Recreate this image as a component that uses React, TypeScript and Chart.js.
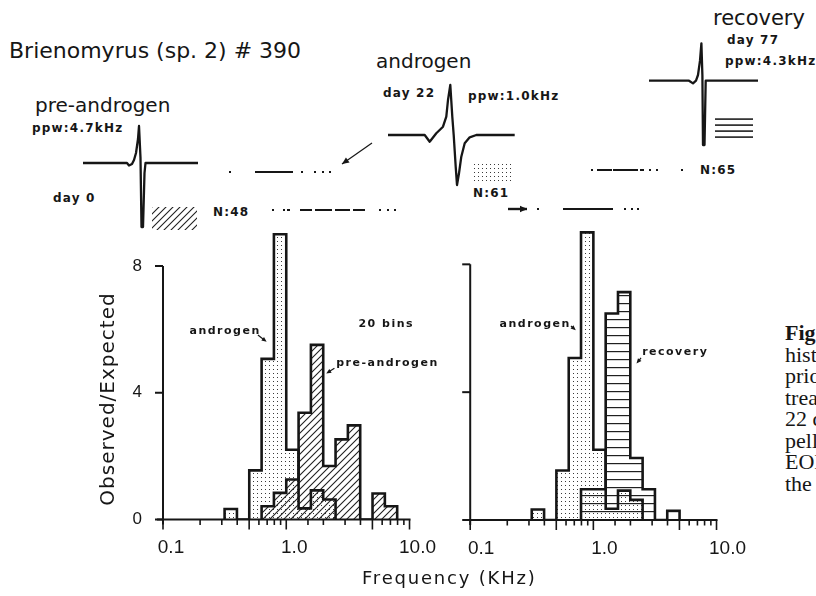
import React, { useEffect, useRef, useMemo } from 'react';
import { Chart, registerables } from 'chart.js';

Chart.register(...registerables);
Chart.defaults.font.family = '"DejaVu Sans", sans-serif';

const INK = '#161616';

// ---------------- histogram data (20 log bins, 0.1 decade wide) ----------------
const binEdgesKHz = [0.316, 0.398, 0.501, 0.631, 0.794, 1.0, 1.259, 1.585, 1.995, 2.512, 3.162, 3.981, 5.012, 6.31, 7.943];
const androgenRatio = [0.33, 0, 1.55, 5.07, 9.0, 2.2, 0.35, 0.92, 0.63, 0, 0, 0, 0, 0];
const preAndrogenRatio = [0, 0, 0, 0.42, 0.84, 1.26, 3.37, 5.51, 1.69, 2.53, 2.97, 0, 0.82, 0.42];
const recoveryRatio = [0, 0, 0, 0, 0.96, 0.96, 6.46, 7.13, 1.94, 0.96, 0, 0.29, 0, 0];

const xTickValues = [0.1, 1, 10];
const xTickLabels = ['0.1', '1.0', '10.0'];
const yTickValues = [0, 4, 8];
const yTickLabels = ['0', '4', '8'];

// ---------------- EOD waveforms (time, amplitude) ----------------
const preWaveT = [0, 44, 46, 49, 51, 53, 55, 56, 57.5, 58.5, 60, 61.5, 62.5, 115];
const preWaveV = [0, 0, -2.5, -1, 3, 10, 24, 37, 5, -64, -64, -10, 0, 0];
const andWaveT = [0, 36.7, 41.7, 48.3, 55, 58.3, 60, 62.3, 64.3, 65.7, 67.7, 69, 71, 73.3, 76.7, 81.7, 88.3, 126.7];
const andWaveV = [0, 0, -6.7, 1.7, 8.3, 18.3, 35, 50, 18.3, 0, -31.7, -50, -38.3, -21.7, -8.3, -2.3, 0, 0];
const recWaveT = [0, 40, 44, 47, 49, 51, 52.4, 53.4, 54, 55.5, 56.7, 109];
const recWaveV = [0, 0, -2.7, 0, 5.7, 20, 37.3, 5, -64.3, -64.3, 0, 0];

// ---------------- pulse-interval rasters ([start, end]) ----------------
const rasterPreUpper = [[1, 3], [27, 65], [73, 75], [86, 88], [94, 96], [101, 103]];
const rasterPreLower = [[2, 4], [13, 15], [17, 20], [30, 42], [45, 62], [65, 80], [83, 95], [109, 111], [117, 119], [124, 126]];
const rasterAndrogen = [[7, 9], [33, 83], [94, 96], [101, 103], [107, 109]];
const rasterRecovery = [[3, 5], [9, 24], [25, 50], [52, 56], [61, 63], [68, 70], [93, 95]];

// ---------------- helpers ----------------
function stepPoints(edges: number[], heights: number[]) {
  const first = heights.findIndex((h) => h > 0);
  let last = heights.length - 1;
  while (last > 0 && heights[last] <= 0) last--;
  const pts: { x: number; y: number }[] = [{ x: edges[first], y: 0 }];
  for (let i = first; i <= last; i++) pts.push({ x: edges[i], y: heights[i] });
  pts.push({ x: edges[last + 1], y: 0 });
  return pts;
}

function makeTile(kind: string): HTMLCanvasElement {
  const c = document.createElement('canvas');
  const g = c.getContext('2d')!;
  if (kind === 'dots') {
    c.width = 4; c.height = 4;
    g.fillStyle = '#3a3a3a';
    g.fillRect(1, 1, 1, 1);
  } else if (kind === 'hatch') {
    c.width = 7; c.height = 7;
    g.strokeStyle = '#202020';
    g.lineWidth = 1.1;
    g.beginPath();
    g.moveTo(-1, 8); g.lineTo(8, -1);
    g.moveTo(-1, 1); g.lineTo(1, -1);
    g.moveTo(6, 8); g.lineTo(8, 6);
    g.stroke();
  } else if (kind === 'hlines') {
    c.width = 4; c.height = 8;
    g.fillStyle = '#202020';
    g.fillRect(0, 3, 4, 1.2);
  } else {
    c.width = 4; c.height = 6;
    g.fillStyle = '#202020';
    g.fillRect(0, 2.3, 4, 1.6);
  }
  return c;
}

function drawArrow(ctx: CanvasRenderingContext2D, x1: number, y1: number, x2: number, y2: number, w: number, head: number) {
  const a = Math.atan2(y2 - y1, x2 - x1);
  ctx.save();
  ctx.strokeStyle = INK;
  ctx.fillStyle = INK;
  ctx.lineWidth = w;
  ctx.beginPath();
  ctx.moveTo(x1, y1);
  ctx.lineTo(x2 - Math.cos(a) * head * 0.6, y2 - Math.sin(a) * head * 0.6);
  ctx.stroke();
  ctx.beginPath();
  ctx.moveTo(x2, y2);
  ctx.lineTo(x2 - Math.cos(a) * head + Math.sin(a) * head * 0.45, y2 - Math.sin(a) * head - Math.cos(a) * head * 0.45);
  ctx.lineTo(x2 - Math.cos(a) * head - Math.sin(a) * head * 0.45, y2 - Math.sin(a) * head + Math.cos(a) * head * 0.45);
  ctx.closePath();
  ctx.fill();
  ctx.restore();
}

function xLabelFor(v: number) {
  const i = xTickValues.findIndex((t) => Math.abs(Math.log10(t) - Math.log10(v)) < 1e-6);
  return i >= 0 ? xTickLabels[i] : '';
}
function yLabelFor(v: number) {
  const i = yTickValues.findIndex((t) => Math.abs(t - v) < 1e-9);
  return i >= 0 ? yTickLabels[i] : '';
}

type Note = { text: string; x: number; y: number; arrow?: number[] };
type Series = { heights: number[]; pattern: string };

const axisPlugin = {
  id: 'figAxes',
  afterDatasetsDraw(chart: any) {
    const { ctx, chartArea, scales } = chart;
    const x = scales.x, y = scales.y;
    const y0 = y.getPixelForValue(0);
    const yTop = y.getPixelForValue(yTickValues[yTickValues.length - 1]);
    ctx.save();
    ctx.strokeStyle = INK;
    ctx.lineWidth = 2;
    ctx.beginPath();
    ctx.moveTo(chartArea.left - 6, y0);
    ctx.lineTo(chartArea.right + 1, y0);
    ctx.stroke();
    ctx.beginPath();
    ctx.moveTo(chartArea.left, y0 + 5);
    ctx.lineTo(chartArea.left, yTop);
    ctx.stroke();
    for (const v of yTickValues) {
      const p = y.getPixelForValue(v);
      ctx.beginPath();
      ctx.moveTo(chartArea.left - 8, p);
      ctx.lineTo(chartArea.left, p);
      ctx.stroke();
    }
    ctx.lineWidth = 1.6;
    for (const t of x.ticks) {
      const px = x.getPixelForValue(t.value);
      const m = t.value / Math.pow(10, Math.floor(Math.log10(t.value) + 1e-9));
      const long = Math.abs(m - 1) < 1e-6 || Math.abs(m - 5) < 1e-6;
      ctx.beginPath();
      ctx.moveTo(px, y0);
      ctx.lineTo(px, y0 + (long ? 10 : 5.5));
      ctx.stroke();
    }
    ctx.restore();
  },
};

function HistPanel(props: {
  left: number; top: number; width: number; height: number;
  yAxisWidth: number; padTop: number; padRight: number; xAxisHeight: number; yMax: number;
  series: Series[]; showYLabels: boolean; labelOffset: number; notes: Note[];
}) {
  const ref = useRef<HTMLCanvasElement>(null);
  useEffect(() => {
    const canvas = ref.current!;
    const ctx = canvas.getContext('2d')!;
    const datasets = props.series.map((s) => ({
      data: stepPoints(binEdgesKHz, s.heights),
      stepped: 'before',
      fill: 'origin',
      backgroundColor: ctx.createPattern(makeTile(s.pattern), 'repeat'),
      borderColor: INK,
      borderWidth: 2.6,
      pointRadius: 0,
      tension: 0,
      borderJoinStyle: 'miter',
    }));
    const notes = props.notes;
    const notesPlugin = {
      id: 'histNotes',
      afterDatasetsDraw(chart: any) {
        const c = chart.ctx as CanvasRenderingContext2D;
        const x = chart.scales.x, y = chart.scales.y;
        c.save();
        c.font = 'bold 11px "DejaVu Sans"';
        (c as any).letterSpacing = '1.5px';
        c.fillStyle = INK;
        c.textBaseline = 'middle';
        c.textAlign = 'left';
        for (const n of notes) {
          c.fillText(n.text, x.getPixelForValue(n.x), y.getPixelForValue(n.y));
          if (n.arrow) {
            drawArrow(c, x.getPixelForValue(n.arrow[0]), y.getPixelForValue(n.arrow[1]),
              x.getPixelForValue(n.arrow[2]), y.getPixelForValue(n.arrow[3]), 1.2, 5);
          }
        }
        c.restore();
      },
    };
    const chart = new Chart(canvas, {
      type: 'line',
      data: { datasets } as any,
      options: {
        responsive: false,
        animation: false,
        events: [],
        layout: { padding: { top: props.padTop, right: props.padRight, left: 0, bottom: 0 } },
        plugins: {
          legend: { display: false },
          tooltip: { enabled: false },
          filler: { drawTime: 'beforeDatasetsDraw' },
        } as any,
        scales: {
          x: {
            type: 'logarithmic',
            min: 0.1,
            max: 10,
            grid: { display: false, drawTicks: false },
            border: { display: false },
            ticks: {
              autoSkip: false,
              maxRotation: 0,
              minRotation: 0,
              padding: 17,
              labelOffset: props.labelOffset,
              color: INK,
              font: { family: '"Liberation Sans", Arial, sans-serif', size: 19 },
              callback: (v: any) => xLabelFor(Number(v)),
            },
            afterFit: (s: any) => { s.height = props.xAxisHeight; },
          },
          y: {
            type: 'linear',
            min: 0,
            max: props.yMax,
            grid: { display: false, drawTicks: false },
            border: { display: false },
            afterBuildTicks: (s: any) => { s.ticks = yTickValues.map((v) => ({ value: v })); },
            ticks: {
              display: props.showYLabels,
              padding: 21,
              color: INK,
              font: { family: '"Liberation Sans", Arial, sans-serif', size: 17 },
              callback: (v: any) => yLabelFor(Number(v)),
            },
            afterFit: (s: any) => { s.width = props.yAxisWidth; },
          },
        } as any,
      },
      plugins: [axisPlugin, notesPlugin],
    } as any);
    return () => chart.destroy();
  }, []);
  return (
    <canvas
      ref={ref}
      width={props.width}
      height={props.height}
      style={{ position: 'absolute', left: props.left, top: props.top, width: props.width, height: props.height }}
    />
  );
}

type MiniSeries = { data: { x: number; y: number | null }[]; width?: number; arrow?: boolean };

function Mini(props: { left: number; top: number; width: number; height: number; originX: number; baseY: number; series: MiniSeries[] }) {
  const ref = useRef<HTMLCanvasElement>(null);
  useEffect(() => {
    const canvas = ref.current!;
    const series = props.series;
    const headPlugin = {
      id: 'arrowHeads',
      afterDatasetsDraw(chart: any) {
        series.forEach((s) => {
          if (!s.arrow) return;
          const n = s.data.length;
          const x = chart.scales.x, y = chart.scales.y;
          const a = s.data[n - 2], b = s.data[n - 1];
          const ax = x.getPixelForValue(a.x), ay = y.getPixelForValue(a.y);
          const bx = x.getPixelForValue(b.x), by = y.getPixelForValue(b.y);
          const len = Math.hypot(bx - ax, by - ay);
          const ux = (bx - ax) / len, uy = (by - ay) / len;
          drawArrow(chart.ctx, bx - ux * 2, by - uy * 2, bx, by, s.width ?? 1.2, 7);
        });
      },
    };
    const chart = new Chart(canvas, {
      type: 'line',
      data: {
        datasets: series.map((s) => ({
          data: s.data,
          borderColor: INK,
          borderWidth: s.width ?? 2.2,
          pointRadius: 0,
          tension: 0,
          spanGaps: false,
          fill: false,
          clip: false,
          borderCapStyle: 'butt',
          borderJoinStyle: 'round',
        })),
      } as any,
      options: {
        responsive: false,
        animation: false,
        events: [],
        layout: { padding: 0 },
        plugins: { legend: { display: false }, tooltip: { enabled: false } },
        scales: {
          x: { type: 'linear', display: false, min: props.left - props.originX, max: props.left + props.width - props.originX },
          y: { type: 'linear', display: false, min: props.baseY - props.top - props.height, max: props.baseY - props.top },
        },
      },
      plugins: [headPlugin],
    } as any);
    return () => chart.destroy();
  }, []);
  return (
    <canvas
      ref={ref}
      width={props.width}
      height={props.height}
      style={{ position: 'absolute', left: props.left, top: props.top, width: props.width, height: props.height }}
    />
  );
}

function wave(t: number[], v: number[]) {
  return t.map((x, i) => ({ x, y: v[i] }));
}
function raster(ev: number[][]) {
  const out: { x: number; y: number | null }[] = [];
  for (const [s, e] of ev) {
    out.push({ x: s, y: 0 }, { x: e, y: 0 }, { x: e, y: null });
  }
  return out;
}

function Wave(props: { originX: number; baseY: number; t: number[]; v: number[] }) {
  const maxT = Math.max(...props.t);
  const maxV = Math.max(...props.v);
  const minV = Math.min(...props.v);
  return (
    <Mini
      left={props.originX - 4}
      top={Math.floor(props.baseY - maxV - 5)}
      width={Math.ceil(maxT + 8)}
      height={Math.ceil(maxV - minV + 10)}
      originX={props.originX}
      baseY={props.baseY}
      series={[{ data: wave(props.t, props.v), width: 2.3 }]}
    />
  );
}

function Raster(props: { originX: number; baseY: number; events: number[][] }) {
  const maxE = Math.max(...props.events.map((e) => e[1]));
  return (
    <Mini
      left={props.originX - 4}
      top={props.baseY - 5}
      width={maxE + 8}
      height={10}
      originX={props.originX}
      baseY={props.baseY}
      series={[{ data: raster(props.events), width: 2 }]}
    />
  );
}

function Txt(props: { x: number; baseline: number; size: number; bold?: boolean; spacing?: number; family?: string; children: any }) {
  const top = props.baseline - 0.846 * props.size;
  return (
    <div
      style={{
        position: 'absolute',
        left: props.x,
        top,
        fontSize: props.size,
        lineHeight: `${props.size}px`,
        fontWeight: props.bold ? 'bold' : 'normal',
        letterSpacing: props.spacing ? `${props.spacing}px` : undefined,
        fontFamily: props.family ?? '"DejaVu Sans", sans-serif',
        whiteSpace: 'nowrap',
        color: INK,
      }}
    >
      {props.children}
    </div>
  );
}

const captionLines = ['Fig. 5', 'histograms', 'prior to', 'treatment', '22 days', 'pellet', 'EOD', 'the'];

export default function App() {
  const tiles = useMemo(() => ({
    hatch: makeTile('hatch').toDataURL(),
    dots: makeTile('dots').toDataURL(),
    hlines6: makeTile('hlines6').toDataURL(),
  }), []);

  const leftNotes: Note[] = [
    { text: 'androgen', x: 0.164, y: 5.95, arrow: [0.589, 5.82, 0.693, 5.61] },
    { text: '20 bins', x: 3.85, y: 6.17 },
    { text: 'pre-androgen', x: 2.54, y: 4.93, arrow: [2.46, 4.77, 2.11, 4.61] },
  ];
  const rightNotes: Note[] = [
    { text: 'androgen', x: 0.173, y: 6.13, arrow: [0.658, 6.07, 0.72, 5.94] },
    { text: 'recovery', x: 2.49, y: 5.25, arrow: [2.44, 5.07, 2.24, 4.9] },
  ];

  const bold = { bold: true, size: 12, spacing: 1.2 };

  return (
    <div style={{ position: 'absolute', left: 0, top: 0, width: 816, height: 596, overflow: 'hidden', background: '#fff', color: INK }}>
      {/* titles and labels of the top strip */}
      <Txt x={9} baseline={58.5} size={22}>Brienomyrus (sp. 2) # 390</Txt>
      <Txt x={35} baseline={112} size={20}>pre-androgen</Txt>
      <Txt x={376} baseline={68} size={20}>androgen</Txt>
      <Txt x={713} baseline={26} size={21}>recovery</Txt>
      <Txt x={32} baseline={131.7} {...bold}>ppw:4.7kHz</Txt>
      <Txt x={53} baseline={201.7} {...bold}>day 0</Txt>
      <Txt x={213} baseline={216} {...bold}>N:48</Txt>
      <Txt x={383} baseline={96.7} {...bold}>day 22</Txt>
      <Txt x={468} baseline={100} {...bold}>ppw:1.0kHz</Txt>
      <Txt x={473} baseline={197.3} {...bold}>N:61</Txt>
      <Txt x={700} baseline={174} {...bold}>N:65</Txt>
      <Txt x={727} baseline={44} {...bold}>day 77</Txt>
      <Txt x={725} baseline={65} {...bold}>ppw:4.3kHz</Txt>

      {/* pattern keys */}
      <div style={{ position: 'absolute', left: 152, top: 207, width: 45, height: 23, backgroundImage: `url(${tiles.hatch})` }} />
      <div style={{ position: 'absolute', left: 473, top: 163, width: 39, height: 19, backgroundImage: `url(${tiles.dots})` }} />
      <div style={{ position: 'absolute', left: 715, top: 116, width: 38, height: 23, backgroundImage: `url(${tiles.hlines6})` }} />

      {/* EOD waveforms */}
      <Wave originX={83} baseY={163} t={preWaveT} v={preWaveV} />
      <Wave originX={388.3} baseY={135} t={andWaveT} v={andWaveV} />
      <Wave originX={649.3} baseY={80.7} t={recWaveT} v={recWaveV} />

      {/* interval rasters */}
      <Raster originX={228} baseY={172} events={rasterPreUpper} />
      <Raster originX={270} baseY={210} events={rasterPreLower} />
      <Raster originX={530} baseY={209} events={rasterAndrogen} />
      <Raster originX={588} baseY={170} events={rasterRecovery} />

      {/* pointer arrows */}
      <Mini left={336} top={139} width={40} height={30} originX={338} baseY={168}
        series={[{ data: [{ x: 34, y: 25 }, { x: 4, y: 4 }], width: 1.2, arrow: true }]} />
      <Mini left={504} top={203} width={26} height={12} originX={506} baseY={209}
        series={[{ data: [{ x: 2, y: 0 }, { x: 21, y: 0 }], width: 2.4, arrow: true }]} />

      {/* histograms */}
      <HistPanel
        left={0} top={180} width={445} height={416}
        yAxisWidth={163} padTop={35.3} padRight={30} xAxisHeight={76.5} yMax={9.6}
        series={[
          { heights: androgenRatio, pattern: 'dots' },
          { heights: preAndrogenRatio, pattern: 'hatch' },
        ]}
        showYLabels={true} labelOffset={8} notes={leftNotes}
      />
      <HistPanel
        left={440} top={180} width={312} height={416}
        yAxisWidth={28} padTop={33.2} padRight={30.3} xAxisHeight={76} yMax={9.6}
        series={[
          { heights: androgenRatio, pattern: 'dots' },
          { heights: recoveryRatio, pattern: 'hlines' },
        ]}
        showYLabels={false} labelOffset={11} notes={rightNotes}
      />

      {/* axis titles */}
      <Txt x={362} baseline={584.3} size={18} spacing={1.8}>Frequency (KHz)</Txt>
      <div
        style={{
          position: 'absolute', left: 107 - 130, top: 399 - 12, width: 260, height: 24, lineHeight: '24px',
          textAlign: 'center', transform: 'rotate(-90deg)', fontSize: 20, letterSpacing: '1px',
          fontFamily: '"DejaVu Sans", sans-serif', whiteSpace: 'nowrap', color: INK,
        }}
      >
        Observed/Expected
      </div>

      {/* cropped caption on the right edge */}
      <div style={{ position: 'absolute', left: 785, top: 322, fontFamily: '"Liberation Serif", serif', fontSize: 22, lineHeight: '21.5px', color: INK, whiteSpace: 'nowrap' }}>
        {captionLines.map((l, i) => (
          <div key={i} style={{ fontWeight: i === 0 ? 'bold' : 'normal' }}>{l}</div>
        ))}
      </div>
    </div>
  );
}
